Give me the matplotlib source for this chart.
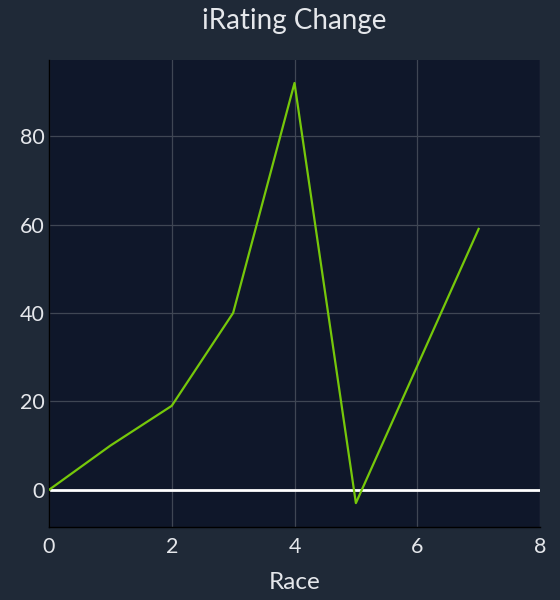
import matplotlib
matplotlib.use("Agg")
import matplotlib.pyplot as plt

races = [0, 1, 2, 3, 4, 5, 6, 7]
irating_change = [0, 10, 19, 40, 92, -3, 28, 59]

bg = "#1f2937"
axbg = "#0f172a"
txt = "#e5e7eb"

plt.rcParams['font.family'] = ['Lato', 'DejaVu Sans']

fig = plt.figure(figsize=(5.6, 6), dpi=100, facecolor=bg)
ax = fig.add_axes([0.0875, 0.1217, 0.8768, 0.7783])
ax.set_facecolor(axbg)

ax.grid(True, color="#3f4654", linewidth=0.9)
ax.set_axisbelow(True)
ax.axhline(0, color="white", linewidth=2, zorder=2)
ax.plot(races, irating_change, color="#76c80a", linewidth=1.6, zorder=3)

ax.set_xlim(0, 8)
ax.set_ylim(-8.4, 97.2)
ax.set_xticks([0, 2, 4, 6, 8])
ax.set_yticks([0, 20, 40, 60, 80])
ax.tick_params(length=0, colors=txt, labelsize=15.5)
ax.tick_params(axis="y", pad=3)
ax.tick_params(axis="x", pad=7)
for s in ["top", "right"]:
    ax.spines[s].set_visible(False)
for s in ["left", "bottom"]:
    ax.spines[s].set_color("black")
    ax.spines[s].set_linewidth(1)

ax.set_xlabel("Race", color=txt, fontsize=17.5, labelpad=11)
ax.set_title("iRating Change", color=txt, fontsize=20, pad=22)

fig.savefig("out.png", facecolor=bg)
